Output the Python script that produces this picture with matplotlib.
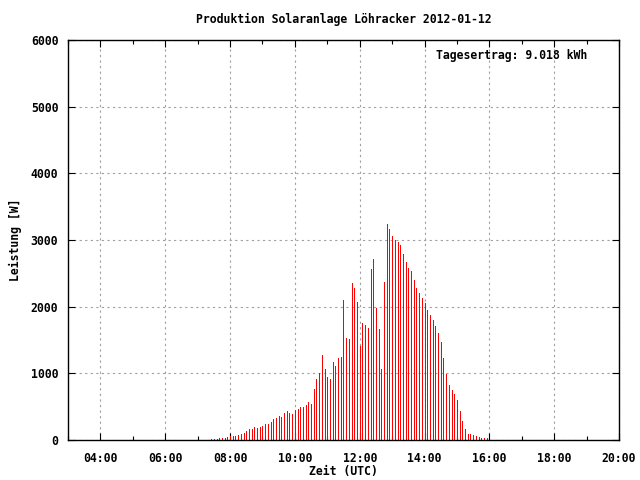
import matplotlib
matplotlib.use("Agg")
import matplotlib.pyplot as plt
import matplotlib.dates as mdates
import pandas as pd
import datetime as dt

# Time grid (5-minute samples) and power values in W
start_time = "2012-01-12 07:25"
end_time = "2012-01-12 15:55"
power = [
    15, 15, 15, 30, 30, 35, 45, 60, 60, 60, 75, 90, 105, 135, 165, 165, 195, 180, 195, 210, 240, 240,
    270, 315, 330, 360, 345, 405, 435, 405, 390, 450, 465, 495, 495, 525, 570, 540, 765, 915, 1005, 1275,
    1065, 945,
    915, 1170, 1110, 1230, 1245, 2100, 1530, 1515, 2355, 2280, 2070, 1410, 1755, 1725, 1680, 2565, 2715,
    1980, 1665, 1065, 2370,
    3240, 3165,
    3060, 3000, 2970, 2925, 2790, 2670, 2580, 2535, 2400, 2280, 2205, 2130, 2055, 1950, 1875, 1800, 1710, 1605,
    1470, 1230, 990, 825,
    750, 690, 600, 435, 285, 165, 90, 90, 75, 60, 45, 30, 30, 30,
]
x_ticklabels = ["04:00", "06:00", "08:00", "10:00", "12:00", "14:00", "16:00", "18:00", "20:00"]
y_ticks = [0, 1000, 2000, 3000, 4000, 5000, 6000]
title = "Produktion Solaranlage Löhracker 2012-01-12"
annotation = "Tagesertrag: 9.018 kWh"

times = pd.date_range(start_time, end_time, freq="5min")

font = dict(family="DejaVu Sans Mono", weight="bold", size=8.3)

fig = plt.figure(figsize=(6.4, 4.8), dpi=100)
ax = fig.add_axes([68 / 640, 40 / 480, (619 - 68) / 640, 400 / 480])

ax.vlines(times.to_pydatetime(), 0, power, colors="#ff0000", linewidth=0.72, antialiased=False)

day = dt.datetime(2012, 1, 12)
ax.set_xlim(day + dt.timedelta(hours=3), day + dt.timedelta(hours=20))
ax.set_ylim(0, 6000)

major = [day + dt.timedelta(hours=4 + 2 * i) for i in range(len(x_ticklabels))]
ax.set_xticks(major)
ax.set_xticklabels(x_ticklabels, **font)
ax.xaxis.set_minor_locator(mdates.HourLocator())
ax.set_yticks(y_ticks)
ax.set_yticklabels([str(v) for v in y_ticks], **font)

ax.tick_params(which="both", direction="in", top=True, right=True, length=5, width=0.8, pad=9)
ax.tick_params(which="minor", length=3)
ax.tick_params(axis="y", pad=7)

ax.grid(True, which="major", color="#a0a0a0", linestyle=(0, (2, 3)), linewidth=0.8)
for s in ax.spines.values():
    s.set_linewidth(1.0)

ax.set_title(title, pad=12, **font)
ax.set_xlabel("Zeit (UTC)", labelpad=0, **font)
ax.set_ylabel("Leistung [W]", labelpad=6, **font)
ax.text(0.942, 0.96, annotation, transform=ax.transAxes, ha="right", va="center", **font)

fig.savefig("out.png", dpi=100)
